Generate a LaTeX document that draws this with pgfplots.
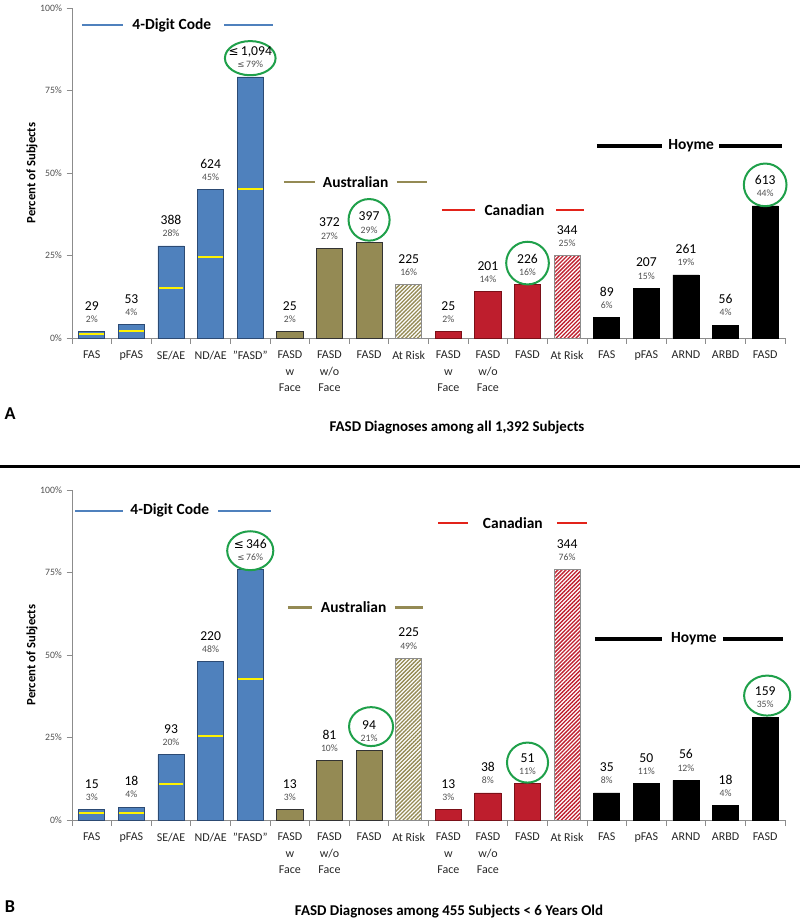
\documentclass[border=0pt]{standalone}
\usepackage{pgfplots}
\pgfplotsset{compat=1.18}
\usepackage{pgfplotstable}
\usepackage{fontspec}
\setmainfont{Carlito}
\newfontfamily\symfont[Scale=0.88]{DejaVu Sans}
\usetikzlibrary{patterns.meta}

\definecolor{cblue}{HTML}{4F81BD}
\definecolor{cblueD}{HTML}{2C4A73}
\definecolor{colive}{HTML}{948A54}
\definecolor{cred}{HTML}{BE1E2D}
\definecolor{credD}{HTML}{7A1018}
\definecolor{credline}{HTML}{E2231A}
\definecolor{cgreen}{HTML}{1FA04A}
\definecolor{pctgray}{HTML}{505050}
\definecolor{axgray}{HTML}{8C8C8C}

% count (first line) and percent (second line) above a bar
\protected\def\lb#1#2{#1\\{\fontsize{7.3}{8.9}\selectfont\color{pctgray}#2\%}}
\protected\def\LE{{\symfont ≤}}

% ---------- Panel A data ----------
\pgfplotstableread{
x y m yl
0 1.9 {\lb{29}{2}} 1.2
1 4.1 {\lb{53}{4}} 2.2
2 27.9 {\lb{388}{28}} 15.3
3 45 {\lb{624}{45}} 24.5
4 79.1 {\lb{\LE\,1,094}{\LE\,79}} 45.2
}\digA
\pgfplotstableread{
x y m
5 1.9 {\lb{25}{2}}
6 27.2 {\lb{372}{27}}
7 29 {\lb{397}{29}}
}\ausA
\pgfplotstableread{
x y m
8 16.1 {\lb{225}{16}}
}\ausRA
\pgfplotstableread{
x y m
9 1.9 {\lb{25}{2}}
10 14.1 {\lb{201}{14}}
11 16.1 {\lb{226}{16}}
}\canA
\pgfplotstableread{
x y m
12 25 {\lb{344}{25}}
}\canRA
\pgfplotstableread{
x y m
13 6.2 {\lb{89}{6}}
14 15.1 {\lb{207}{15}}
15 19.1 {\lb{261}{19}}
16 3.9 {\lb{56}{4}}
17 40 {\lb{613}{44}}
}\hoyA

% ---------- Panel B data ----------
\pgfplotstableread{
x y m yl
0 3.1 {\lb{15}{3}} 2.1
1 3.9 {\lb{18}{4}} 2.0
2 19.8 {\lb{93}{20}} 10.8
3 48 {\lb{220}{48}} 25.5
4 75.8 {\lb{\LE\,346}{\LE\,76}} 42.8
}\digB
\pgfplotstableread{
x y m
5 3.1 {\lb{13}{3}}
6 18 {\lb{81}{10}}
7 21 {\lb{94}{21}}
}\ausB
\pgfplotstableread{
x y m
8 49 {\lb{225}{49}}
}\ausRB
\pgfplotstableread{
x y m
9 3.1 {\lb{13}{3}}
10 8.2 {\lb{38}{8}}
11 11 {\lb{51}{11}}
}\canB
\pgfplotstableread{
x y m
12 75.8 {\lb{344}{76}}
}\canRB
\pgfplotstableread{
x y m
13 8.2 {\lb{35}{8}}
14 11 {\lb{50}{11}}
15 12 {\lb{56}{12}}
16 4.4 {\lb{18}{4}}
17 31.2 {\lb{159}{35}}
}\hoyB

\tikzset{
  hatch/.style={pattern={Lines[angle=45,distance=2.1pt,line width=1pt]}, pattern color=#1},
  hdr/.style={font=\bfseries\fontsize{11.6}{13}\selectfont},
  circ/.style={draw=cgreen, line width=1.5pt},
}

\pgfplotsset{
  panel/.style={
    scale only axis, width=534.75pt, height=247.5pt,
    anchor=south west,
    xmin=-0.5, xmax=17.5, ymin=0, ymax=100,
    clip=false,
    axis x line*=bottom, axis y line*=left,
    axis line style={axgray, line width=0.6pt},
    tick align=outside,
    xtick={0,...,17},
    xticklabels={FAS,pFAS,SE/AE,ND/AE,"FASD",{FASD\\w\\Face},{FASD\\w/o\\Face},FASD,At Risk,{FASD\\w\\Face},{FASD\\w/o\\Face},FASD,At Risk,FAS,pFAS,ARND,ARBD,FASD},
    major x tick style={draw=none},
    minor xtick={-0.5,0.5,...,17.5},
    minor x tick style={axgray, line width=0.6pt},
    minor tick length=4.5pt,
    major tick length=4pt,
    ytick style={axgray, line width=0.6pt},
    ytick={0,25,50,75,100},
    yticklabels={0\%,25\%,50\%,75\%,100\%},
    yticklabel style={font=\fontsize{7.3}{8}\selectfont, text=pctgray},
    xticklabel style={align=center, font=\fontsize{9}{12.4}\selectfont, text=black!85, yshift=-2pt},
    ylabel={Percent of Subjects},
    ylabel style={at={(axis description cs:-0.056,0.5)}, anchor=center, font=\bfseries\fontsize{9.5}{11}\selectfont},
  },
  bars/.style={ybar, bar width=0.66, line width=0.6pt},
  lbl/.style={nodes near coords={\pgfplotspointmeta}, point meta=explicit symbolic,
    every node near coord/.append style={text=black, align=center, anchor=south, inner sep=0pt, yshift=6.5pt, font=\fontsize{10.2}{9.2}\selectfont}},
  yl/.style={only marks, mark=-, mark size=9.3pt, mark options={draw=yellow, line width=1.5pt}},
}

\begin{document}
\begin{tikzpicture}
\path[use as bounding box] (0pt,0pt) rectangle (600pt,691.5pt);

% ================= Panel A =================
\begin{axis}[panel, at={(54pt,438pt)}]
\addplot[bars, fill=cblue, draw=cblueD, lbl] table[x=x,y=y,meta=m]{\digA};
\addplot[yl] table[x=x,y=yl]{\digA};
\addplot[bars, fill=colive, draw=black!80, lbl] table[x=x,y=y,meta=m]{\ausA};
\addplot[bars, hatch=colive, draw=axgray, lbl] table[x=x,y=y,meta=m]{\ausRA};
\addplot[bars, fill=cred, draw=credD, lbl] table[x=x,y=y,meta=m]{\canA};
\addplot[bars, hatch=cred, draw=axgray, lbl] table[x=x,y=y,meta=m]{\canRA};
\addplot[bars, fill=black, draw=black, lbl] table[x=x,y=y,meta=m]{\hoyA};

% group headers
\draw[cblue, line width=1.5pt] (axis cs:-0.25,94.8) -- (axis cs:0.79,94.8);
\draw[cblue, line width=1.5pt] (axis cs:3.34,94.8) -- (axis cs:4.57,94.8);
\node[hdr] at (axis cs:2.02,94.8) {4-Digit Code};
\draw[colive, line width=1.6pt] (axis cs:4.85,47.3) -- (axis cs:5.63,47.3);
\draw[colive, line width=1.6pt] (axis cs:7.70,47.3) -- (axis cs:8.46,47.3);
\node[hdr] at (axis cs:6.66,47.3) {Australian};
\draw[credline, line width=1.7pt] (axis cs:8.84,38.8) -- (axis cs:9.67,38.8);
\draw[credline, line width=1.7pt] (axis cs:11.72,38.8) -- (axis cs:12.43,38.8);
\node[hdr] at (axis cs:10.67,38.8) {Canadian};
\draw[black, line width=2.6pt] (axis cs:12.75,58.2) -- (axis cs:14.40,58.2);
\draw[black, line width=2.6pt] (axis cs:15.83,58.2) -- (axis cs:17.42,58.2);
\node[hdr] at (axis cs:15.13,58.2) {Hoyme};

% green circles
\draw[circ] (axis cs:4,84.8) ellipse [x radius=19pt, y radius=12.8pt];
\draw[circ] (axis cs:7,35.8) ellipse [x radius=15.4pt, y radius=15.6pt];
\draw[circ] (axis cs:11,22.7) ellipse [x radius=16pt, y radius=16pt];
\draw[circ] (axis cs:17,46.4) ellipse [x radius=16pt, y radius=16pt];
\end{axis}

% ================= Panel B =================
\begin{axis}[panel, at={(54pt,76.5pt)}]
\addplot[bars, fill=cblue, draw=cblueD, lbl] table[x=x,y=y,meta=m]{\digB};
\addplot[yl] table[x=x,y=yl]{\digB};
\addplot[bars, fill=colive, draw=black!80, lbl] table[x=x,y=y,meta=m]{\ausB};
\addplot[bars, hatch=colive, draw=axgray, lbl] table[x=x,y=y,meta=m]{\ausRB};
\addplot[bars, fill=cred, draw=credD, lbl] table[x=x,y=y,meta=m]{\canB};
\addplot[bars, hatch=cred, draw=axgray, lbl] table[x=x,y=y,meta=m]{\canRB};
\addplot[bars, fill=black, draw=black, lbl] table[x=x,y=y,meta=m]{\hoyB};

\draw[cblue, line width=1.5pt] (axis cs:-0.42,93.7) -- (axis cs:0.79,93.7);
\draw[cblue, line width=1.5pt] (axis cs:3.19,93.7) -- (axis cs:4.52,93.7);
\node[hdr] at (axis cs:1.97,93.7) {4-Digit Code};
\draw[colive, line width=1.6pt] (axis cs:4.95,64.4) -- (axis cs:5.56,64.4);
\draw[colive, line width=1.6pt] (axis cs:7.65,64.4) -- (axis cs:8.36,64.4);
\node[hdr] at (axis cs:6.61,64.4) {Australian};
\draw[credline, line width=1.7pt] (axis cs:8.74,90) -- (axis cs:9.5,90);
\draw[credline, line width=1.7pt] (axis cs:11.74,90) -- (axis cs:12.5,90);
\node[hdr] at (axis cs:10.63,90) {Canadian};
\draw[black, line width=2.6pt] (axis cs:12.70,54.9) -- (axis cs:14.40,54.9);
\draw[black, line width=2.6pt] (axis cs:15.94,54.9) -- (axis cs:17.45,54.9);
\node[hdr] at (axis cs:15.2,54.9) {Hoyme};

\draw[circ] (axis cs:4,81.6) ellipse [x radius=17.3pt, y radius=14.6pt];
\draw[circ] (axis cs:7.05,28.3) ellipse [x radius=16.5pt, y radius=14.6pt];
\draw[circ] (axis cs:11,17.4) ellipse [x radius=15.4pt, y radius=15pt];
\draw[circ] (axis cs:17.05,37.7) ellipse [x radius=17.3pt, y radius=15pt];
\end{axis}

% separator, panel letters and titles (positions in pt; 1 px = 0.75 pt)
\draw[black, line width=2.25pt] (0pt,341.25pt) -- (600pt,341.25pt);
\node[font=\bfseries\fontsize{13.6}{15}\selectfont] at (7.5pt,381pt) {A};
\node[font=\bfseries\fontsize{11.2}{13}\selectfont] at (342.75pt,370.5pt) {FASD Diagnoses among all 1,392 Subjects};
\node[font=\bfseries\fontsize{13.6}{15}\selectfont] at (7.5pt,11.25pt) {B};
\node[font=\bfseries\fontsize{11.2}{13}\selectfont] at (336.75pt,7.5pt) {FASD Diagnoses among 455 Subjects < 6 Years Old};
\end{tikzpicture}
\end{document}
